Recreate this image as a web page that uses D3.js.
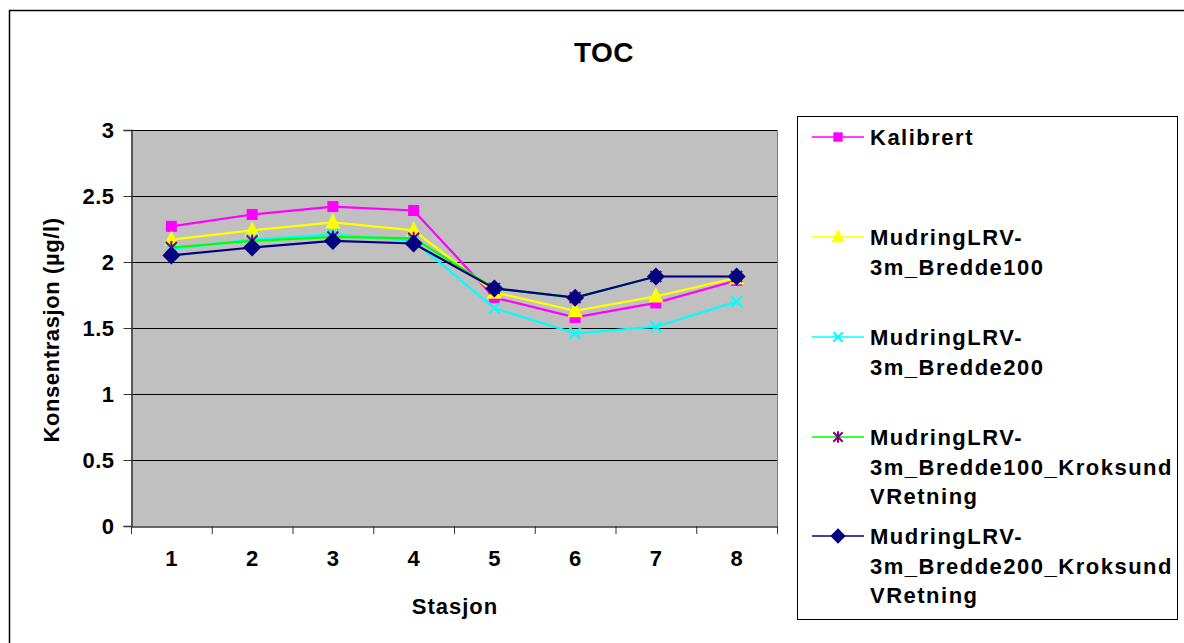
<!DOCTYPE html>
<html>
<head>
<meta charset="utf-8">
<script src="https://cdn.jsdelivr.net/npm/d3@7"></script>
<style>
  body { margin: 0; background: #fff; }
  svg text { font-family: Arial, "Liberation Sans", sans-serif; font-weight: bold; fill: #000; }
</style>
</head>
<body>
<svg id="chart" width="1184" height="643"></svg>
<script>
// data
const stations = ["1", "2", "3", "4", "5", "6", "7", "8"];
const yTicks = [0, 0.5, 1, 1.5, 2, 2.5, 3];

const kalibrert      = [2.27, 2.36, 2.42, 2.39, 1.73, 1.58, 1.69, 1.86];
const bredde100      = [2.17, 2.24, 2.30, 2.24, 1.77, 1.63, 1.74, 1.88];
const bredde200      = [2.10, 2.17, 2.21, 2.16, 1.65, 1.46, 1.51, 1.70];
const bredde100Krok  = [2.11, 2.16, 2.19, 2.18, 1.80, 1.73, 1.89, 1.89];
const bredde200Krok  = [2.05, 2.11, 2.16, 2.14, 1.80, 1.73, 1.89, 1.89];

const seriesNames = [
    ["Kalibrert"],
    ["MudringLRV-", "3m_Bredde100"],
    ["MudringLRV-", "3m_Bredde200"],
    ["MudringLRV-", "3m_Bredde100_Kroksund", "VRetning"],
    ["MudringLRV-", "3m_Bredde200_Kroksund", "VRetning"]
];

const series = [
    { values: kalibrert,     line: "#FF00FF", marker: "square",   mcolor: "#FF00FF" },
    { values: bredde100,     line: "#FFFF00", marker: "triangle", mcolor: "#FFFF00" },
    { values: bredde200,     line: "#00FFFF", marker: "cross",    mcolor: "#00FFFF" },
    { values: bredde100Krok, line: "#00FF00", marker: "star",     mcolor: "#800080" },
    { values: bredde200Krok, line: "#000080", marker: "diamond",  mcolor: "#000080" }
];

const svg = d3.select("#chart");

// ytre ramme
svg.append("rect")
    .attr("x", 9.5).attr("y", 10.5)
    .attr("width", 1300).attr("height", 800)
    .attr("fill", "#fff")
    .attr("stroke", "#000")
    .attr("stroke-width", 1.5);

// plotteområde
const plot = { left: 131, top: 130, right: 777, bottom: 526 };

const x = d3.scaleBand()
    .domain(stations)
    .range([plot.left, plot.right]);

const y = d3.scaleLinear()
    .domain([0, 3])
    .range([plot.bottom, plot.top]);

svg.append("rect")
    .attr("x", plot.left).attr("y", plot.top)
    .attr("width", plot.right - plot.left)
    .attr("height", plot.bottom - plot.top)
    .attr("fill", "#C0C0C0");

// rutenett
svg.append("g")
    .selectAll("line")
    .data(yTicks.filter(d => d > 0))
    .join("line")
    .attr("x1", plot.left).attr("x2", plot.right)
    .attr("y1", d => Math.round(y(d)) + 0.5)
    .attr("y2", d => Math.round(y(d)) + 0.5)
    .attr("stroke", "#000")
    .attr("stroke-width", 1);

// høyre kant
svg.append("line")
    .attr("x1", plot.right + 0.5).attr("x2", plot.right + 0.5)
    .attr("y1", plot.top).attr("y2", plot.bottom)
    .attr("stroke", "#808080");

// y-akse
const yAxis = svg.append("g")
    .attr("transform", `translate(${plot.left + 0.5},0)`)
    .call(d3.axisLeft(y).tickValues(yTicks).tickSize(8).tickPadding(9)
        .tickFormat(d => String(d)));
yAxis.select(".domain").attr("stroke", "#333").attr("stroke-width", 1.5);
yAxis.selectAll(".tick line").attr("stroke", "#333");
yAxis.selectAll(".tick text")
    .style("font-size", "22px")
    .style("letter-spacing", "0.5px")
    .attr("font-family", null);

// x-akse
const xAxis = svg.append("g")
    .attr("transform", `translate(0,${plot.bottom + 0.5})`)
    .call(d3.axisBottom(x).tickSize(0).tickPadding(24));
xAxis.select(".domain").attr("stroke", "#333").attr("stroke-width", 1.5);
xAxis.selectAll(".tick text")
    .style("font-size", "22px")
    .attr("font-family", null);

// kategoriskiller under aksen
svg.append("g")
    .selectAll("line")
    .data(stations.concat(["end"]))
    .join("line")
    .attr("x1", (d, i) => plot.left + i * x.step() + 0.5)
    .attr("x2", (d, i) => plot.left + i * x.step() + 0.5)
    .attr("y1", plot.bottom)
    .attr("y2", plot.bottom + 8)
    .attr("stroke", "#333");

// tittel og aksetitler
svg.append("text")
    .attr("x", 604).attr("y", 62)
    .attr("text-anchor", "middle")
    .style("font-size", "28px")
    .style("letter-spacing", "0.5px")
    .text("TOC");

svg.append("text")
    .attr("x", 455).attr("y", 614)
    .attr("text-anchor", "middle")
    .style("font-size", "22px")
    .style("letter-spacing", "1px")
    .text("Stasjon");

svg.append("text")
    .attr("transform", "translate(59,330) rotate(-90)")
    .attr("text-anchor", "middle")
    .style("font-size", "22px")
    .style("letter-spacing", "0.6px")
    .text("Konsentrasjon (µg/l)");

// markører
function drawMarker(g, type, color, cx, cy, s) {
    if (type === "square") {
        g.append("rect")
            .attr("x", cx - s / 2).attr("y", cy - s / 2)
            .attr("width", s).attr("height", s)
            .attr("fill", color);
    } else if (type === "triangle") {
        g.append("path")
            .attr("d", `M${cx},${cy - s * 0.65}L${cx + s * 0.55},${cy + s * 0.45}L${cx - s * 0.55},${cy + s * 0.45}Z`)
            .attr("fill", color);
    } else if (type === "diamond") {
        g.append("path")
            .attr("d", `M${cx},${cy - s * 0.6}L${cx + s * 0.6},${cy}L${cx},${cy + s * 0.6}L${cx - s * 0.6},${cy}Z`)
            .attr("fill", color);
    } else if (type === "cross") {
        const h = s / 2;
        g.append("path")
            .attr("d", `M${cx - h},${cy - h}L${cx + h},${cy + h}M${cx - h},${cy + h}L${cx + h},${cy - h}`)
            .attr("stroke", color).attr("stroke-width", 2).attr("fill", "none");
    } else if (type === "star") {
        const h = s / 2;
        g.append("path")
            .attr("d", `M${cx - h},${cy - h}L${cx + h},${cy + h}M${cx - h},${cy + h}L${cx + h},${cy - h}M${cx},${cy - h - 1}L${cx},${cy + h + 1}`)
            .attr("stroke", color).attr("stroke-width", 2).attr("fill", "none");
    }
}

const markerSize = { square: 11, triangle: 14, cross: 11, star: 11, diamond: 15 };

const line = d3.line()
    .x((d, i) => x(stations[i]) + x.bandwidth() / 2)
    .y(d => y(d));

series.forEach(s => {
    const g = svg.append("g");
    g.append("path")
        .datum(s.values)
        .attr("d", line)
        .attr("fill", "none")
        .attr("stroke", s.line)
        .attr("stroke-width", 2.2);
    s.values.forEach((v, i) => {
        drawMarker(g, s.marker, s.mcolor, x(stations[i]) + x.bandwidth() / 2, y(v), markerSize[s.marker]);
    });
});

// legende
svg.append("rect")
    .attr("x", 797.5).attr("y", 116.5)
    .attr("width", 380).attr("height", 503)
    .attr("fill", "#fff")
    .attr("stroke", "#000")
    .attr("stroke-width", 1);

const legendY = [137, 237, 337, 437, 536];
series.forEach((s, i) => {
    const g = svg.append("g");
    const ly = legendY[i];
    g.append("line")
        .attr("x1", 812).attr("x2", 864)
        .attr("y1", ly).attr("y2", ly)
        .attr("stroke", s.line)
        .attr("stroke-width", 1.5);
    drawMarker(g, s.marker, s.mcolor, 838, ly, markerSize[s.marker] * 0.85);
    const t = g.append("text")
        .attr("x", 870).attr("y", ly + 8)
        .style("font-size", "22px")
        .style("letter-spacing", "1.5px");
    seriesNames[i].forEach((name, j) => {
        t.append("tspan")
            .attr("x", 870)
            .attr("dy", j === 0 ? 0 : 29.5)
            .text(name);
    });
});
</script>
</body>
</html>
